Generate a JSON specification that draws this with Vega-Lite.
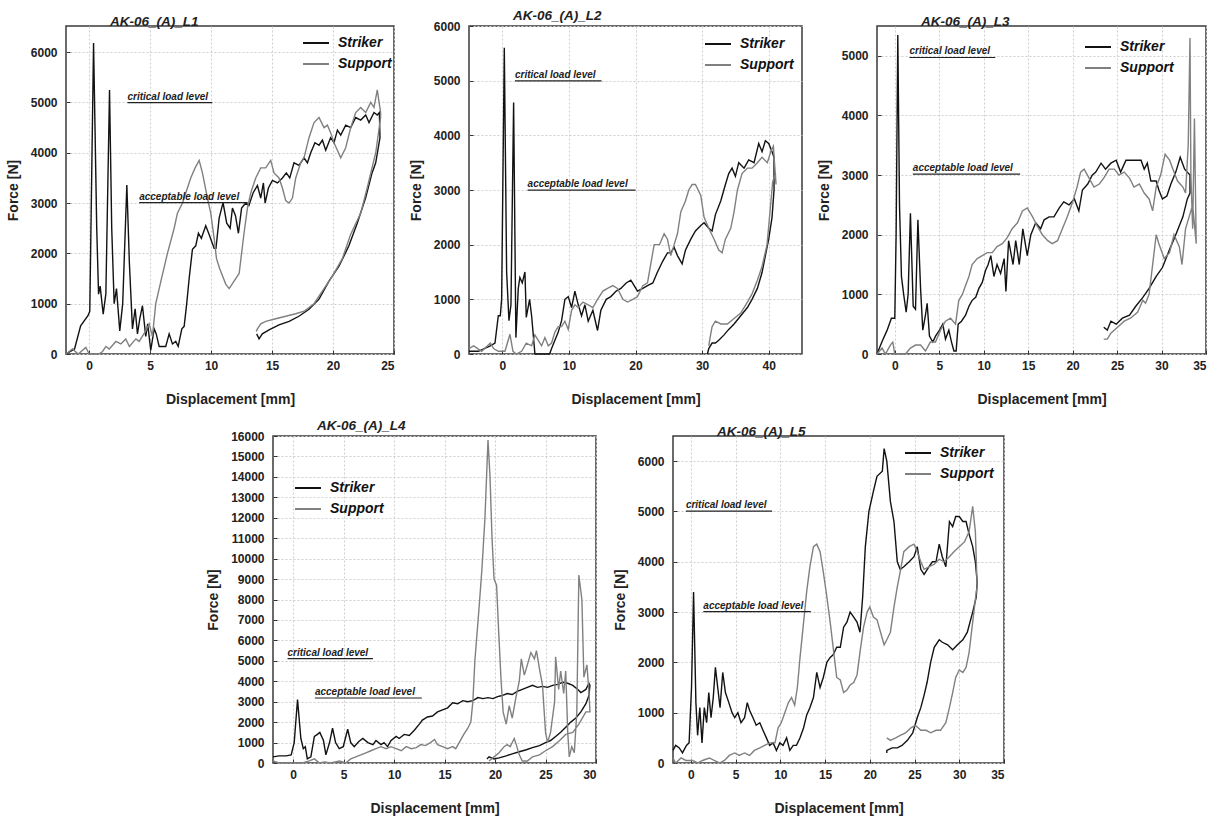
{
"$schema":"https://vega.github.io/schema/vega-lite/v6.json",
"padding":{"left":5,"top":7,"right":5,"bottom":5},
"background":"white",
"config":{
 "font":"Liberation Sans",
 "view":{"stroke":"#3a3a3a","strokeWidth":1.5},
 "axis":{"labelFont":"Liberation Sans","labelFontWeight":"bold","labelFontSize":12,"labelColor":"#222","labelOverlap":false,"titleFont":"Liberation Sans","titleFontWeight":"bold","titleFontSize":14,"titleColor":"#222","domain":false,"grid":true,"gridColor":"#cfcfcf","gridDash":[2,2],"ticks":true,"tickSize":-4,"tickColor":"#333","format":"d"},
 "axisX":{"labelPadding":10,"titlePadding":21},
 "axisY":{"labelPadding":13,"titlePadding":10},
 "legend":{"orient":"none","padding":0,"symbolType":"stroke","symbolStrokeWidth":2,"symbolSize":676,"labelFont":"Liberation Sans","labelFontSize":14,"labelFontStyle":"italic","labelFontWeight":"bold","labelColor":"#111","labelOffset":8,"rowPadding":0},
 "title":{"font":"Liberation Sans","fontSize":13.5,"fontStyle":"italic","fontWeight":"bold","anchor":"start","frame":"group","dx":44,"offset":-2,"color":"#222"}
},
"datasets":{
"A1":[{"t":"critical load level","x":3.14,"x2":10.1,"y":4995},{"t":"acceptable load level","x":4.1,"x2":13.0,"y":3009}],
"A2":[{"t":"critical load level","x":1.9,"x2":14.9,"y":4995},{"t":"acceptable load level","x":3.8,"x2":20.0,"y":2997}],
"A3":[{"t":"critical load level","x":1.65,"x2":11.3,"y":4972},{"t":"acceptable load level","x":2.03,"x2":14.1,"y":3015}],
"A4":[{"t":"critical load level","x":-0.56,"x2":7.9,"y":5105},{"t":"acceptable load level","x":2.15,"x2":12.75,"y":3181}],
"A5":[{"t":"critical load level","x":-0.56,"x2":9.08,"y":5008},{"t":"acceptable load level","x":1.39,"x2":13.4,"y":3010}],
"L1":[
{"s":"Striker","x":-1.9,"y":0},{"s":"Striker","x":-1.2,"y":100},{"s":"Striker","x":-0.7,"y":560},{"s":"Striker","x":-0.1,"y":760},{"s":"Striker","x":0.05,"y":850},{"s":"Striker","x":0.36,"y":6180},{"s":"Striker","x":0.62,"y":2500},{"s":"Striker","x":0.77,"y":1190},{"s":"Striker","x":0.9,"y":1350},{"s":"Striker","x":1.15,"y":790},{"s":"Striker","x":1.37,"y":1200},{"s":"Striker","x":1.67,"y":5250},{"s":"Striker","x":1.85,"y":2500},{"s":"Striker","x":2.05,"y":1000},{"s":"Striker","x":2.24,"y":1300},{"s":"Striker","x":2.51,"y":460},{"s":"Striker","x":2.75,"y":1000},{"s":"Striker","x":3.09,"y":3360},{"s":"Striker","x":3.3,"y":1800},{"s":"Striker","x":3.55,"y":500},{"s":"Striker","x":3.77,"y":900},{"s":"Striker","x":3.96,"y":400},{"s":"Striker","x":4.15,"y":700},{"s":"Striker","x":4.37,"y":960},{"s":"Striker","x":4.64,"y":350},{"s":"Striker","x":4.8,"y":600},{"s":"Striker","x":5.05,"y":70},{"s":"Striker","x":5.33,"y":500},{"s":"Striker","x":5.5,"y":400},{"s":"Striker","x":5.74,"y":150},{"s":"Striker","x":6.28,"y":150},{"s":"Striker","x":6.56,"y":400},{"s":"Striker","x":6.83,"y":200},{"s":"Striker","x":7.1,"y":250},{"s":"Striker","x":7.3,"y":150},{"s":"Striker","x":7.6,"y":500},{"s":"Striker","x":7.79,"y":550},{"s":"Striker","x":8.0,"y":1000},{"s":"Striker","x":8.2,"y":1500},{"s":"Striker","x":8.47,"y":2080},{"s":"Striker","x":8.74,"y":2150},{"s":"Striker","x":8.96,"y":2400},{"s":"Striker","x":9.2,"y":2300},{"s":"Striker","x":9.56,"y":2550},{"s":"Striker","x":9.8,"y":2400},{"s":"Striker","x":10.25,"y":2100},{"s":"Striker","x":10.4,"y":2100},{"s":"Striker","x":10.66,"y":2700},{"s":"Striker","x":10.98,"y":3010},{"s":"Striker","x":11.28,"y":2600},{"s":"Striker","x":11.56,"y":2500},{"s":"Striker","x":11.75,"y":2900},{"s":"Striker","x":12.0,"y":2750},{"s":"Striker","x":12.24,"y":2400},{"s":"Striker","x":12.5,"y":2900},{"s":"Striker","x":12.84,"y":3000},{"s":"Striker","x":13.1,"y":2950},{"s":"Striker","x":13.44,"y":3200},{"s":"Striker","x":13.8,"y":3350},{"s":"Striker","x":14.07,"y":3100},{"s":"Striker","x":14.29,"y":3400},{"s":"Striker","x":14.43,"y":3000},{"s":"Striker","x":14.7,"y":3300},{"s":"Striker","x":15.03,"y":3450},{"s":"Striker","x":15.44,"y":3400},{"s":"Striker","x":15.85,"y":3500},{"s":"Striker","x":16.17,"y":3600},{"s":"Striker","x":16.45,"y":3500},{"s":"Striker","x":16.8,"y":3800},{"s":"Striker","x":17.21,"y":3750},{"s":"Striker","x":17.62,"y":3900},{"s":"Striker","x":17.9,"y":3800},{"s":"Striker","x":18.17,"y":4000},{"s":"Striker","x":18.52,"y":4200},{"s":"Striker","x":18.85,"y":4150},{"s":"Striker","x":19.13,"y":4250},{"s":"Striker","x":19.4,"y":4050},{"s":"Striker","x":19.8,"y":4300},{"s":"Striker","x":20.08,"y":4200},{"s":"Striker","x":20.36,"y":4450},{"s":"Striker","x":20.63,"y":4350},{"s":"Striker","x":21.04,"y":4550},{"s":"Striker","x":21.45,"y":4500},{"s":"Striker","x":21.86,"y":4700},{"s":"Striker","x":22.27,"y":4650},{"s":"Striker","x":22.68,"y":4750},{"s":"Striker","x":22.95,"y":4600},{"s":"Striker","x":23.36,"y":4800},{"s":"Striker","x":23.63,"y":4750},{"s":"Striker","x":23.8,"y":4800},{"s":"Striker","x":23.85,"y":4300},{"s":"Striker","x":23.5,"y":3800},{"s":"Striker","x":23.2,"y":3600},{"s":"Striker","x":22.68,"y":3110},{"s":"Striker","x":22.0,"y":2610},{"s":"Striker","x":21.3,"y":2150},{"s":"Striker","x":20.5,"y":1750},{"s":"Striker","x":19.67,"y":1450},{"s":"Striker","x":18.85,"y":1090},{"s":"Striker","x":18.03,"y":890},{"s":"Striker","x":17.2,"y":750},{"s":"Striker","x":16.4,"y":650},{"s":"Striker","x":15.57,"y":580},{"s":"Striker","x":14.75,"y":480},{"s":"Striker","x":14.2,"y":400},{"s":"Striker","x":13.93,"y":300},{"s":"Striker","x":13.74,"y":400},
{"s":"Support","x":-1.9,"y":0},{"s":"Support","x":-1.37,"y":100},{"s":"Support","x":-0.9,"y":0},{"s":"Support","x":-0.27,"y":130},{"s":"Support","x":0,"y":0},{"s":"Support","x":0.8,"y":0},{"s":"Support","x":1.1,"y":50},{"s":"Support","x":1.37,"y":150},{"s":"Support","x":1.65,"y":100},{"s":"Support","x":2.19,"y":250},{"s":"Support","x":2.6,"y":200},{"s":"Support","x":3.0,"y":300},{"s":"Support","x":3.3,"y":150},{"s":"Support","x":3.83,"y":300},{"s":"Support","x":4.1,"y":250},{"s":"Support","x":4.64,"y":460},{"s":"Support","x":4.92,"y":600},{"s":"Support","x":5.19,"y":350},{"s":"Support","x":5.46,"y":1000},{"s":"Support","x":5.93,"y":1500},{"s":"Support","x":6.42,"y":2000},{"s":"Support","x":6.97,"y":2500},{"s":"Support","x":7.24,"y":2800},{"s":"Support","x":7.65,"y":3000},{"s":"Support","x":7.92,"y":3200},{"s":"Support","x":8.33,"y":3500},{"s":"Support","x":8.69,"y":3700},{"s":"Support","x":9.02,"y":3850},{"s":"Support","x":9.29,"y":3600},{"s":"Support","x":9.7,"y":3100},{"s":"Support","x":9.97,"y":2800},{"s":"Support","x":10.25,"y":2300},{"s":"Support","x":10.44,"y":1900},{"s":"Support","x":10.7,"y":1700},{"s":"Support","x":11.2,"y":1390},{"s":"Support","x":11.48,"y":1300},{"s":"Support","x":12.02,"y":1500},{"s":"Support","x":12.3,"y":1600},{"s":"Support","x":12.7,"y":2400},{"s":"Support","x":12.98,"y":2900},{"s":"Support","x":13.25,"y":3200},{"s":"Support","x":13.66,"y":3500},{"s":"Support","x":14.07,"y":3700},{"s":"Support","x":14.48,"y":3700},{"s":"Support","x":14.89,"y":3850},{"s":"Support","x":15.16,"y":3600},{"s":"Support","x":15.57,"y":3500},{"s":"Support","x":15.85,"y":3300},{"s":"Support","x":16.12,"y":3050},{"s":"Support","x":16.39,"y":3000},{"s":"Support","x":16.67,"y":3100},{"s":"Support","x":16.94,"y":3500},{"s":"Support","x":17.35,"y":3800},{"s":"Support","x":17.62,"y":3900},{"s":"Support","x":18.03,"y":4300},{"s":"Support","x":18.44,"y":4600},{"s":"Support","x":18.85,"y":4700},{"s":"Support","x":19.26,"y":4500},{"s":"Support","x":19.54,"y":4550},{"s":"Support","x":19.8,"y":4400},{"s":"Support","x":20.08,"y":4200},{"s":"Support","x":20.63,"y":3900},{"s":"Support","x":21.04,"y":4100},{"s":"Support","x":21.45,"y":4500},{"s":"Support","x":21.86,"y":4800},{"s":"Support","x":22.27,"y":4900},{"s":"Support","x":22.68,"y":4800},{"s":"Support","x":23.09,"y":5000},{"s":"Support","x":23.36,"y":4900},{"s":"Support","x":23.63,"y":5250},{"s":"Support","x":23.9,"y":4800},{"s":"Support","x":23.9,"y":4700},{"s":"Support","x":23.5,"y":4000},{"s":"Support","x":22.8,"y":3300},{"s":"Support","x":22.27,"y":2800},{"s":"Support","x":21.45,"y":2380},{"s":"Support","x":20.77,"y":1900},{"s":"Support","x":19.95,"y":1550},{"s":"Support","x":19.26,"y":1300},{"s":"Support","x":18.44,"y":1000},{"s":"Support","x":17.62,"y":850},{"s":"Support","x":16.94,"y":800},{"s":"Support","x":16.12,"y":750},{"s":"Support","x":15.3,"y":700},{"s":"Support","x":14.48,"y":650},{"s":"Support","x":14.07,"y":600},{"s":"Support","x":13.8,"y":500},{"s":"Support","x":13.7,"y":450}
],
"L2":[
{"s":"Striker","x":-5,"y":50},{"s":"Striker","x":-3.6,"y":50},{"s":"Striker","x":-1.8,"y":150},{"s":"Striker","x":-1.1,"y":200},{"s":"Striker","x":-0.6,"y":700},{"s":"Striker","x":-0.3,"y":700},{"s":"Striker","x":-0.1,"y":1000},{"s":"Striker","x":0.3,"y":5600},{"s":"Striker","x":0.65,"y":1500},{"s":"Striker","x":1.0,"y":610},{"s":"Striker","x":1.3,"y":900},{"s":"Striker","x":1.7,"y":4600},{"s":"Striker","x":2.04,"y":300},{"s":"Striker","x":2.4,"y":1200},{"s":"Striker","x":2.64,"y":1400},{"s":"Striker","x":3.0,"y":1300},{"s":"Striker","x":3.4,"y":1500},{"s":"Striker","x":3.6,"y":670},{"s":"Striker","x":4.1,"y":1000},{"s":"Striker","x":4.4,"y":700},{"s":"Striker","x":4.9,"y":0},{"s":"Striker","x":5.4,"y":0},{"s":"Striker","x":7.1,"y":0},{"s":"Striker","x":7.4,"y":100},{"s":"Striker","x":8.4,"y":400},{"s":"Striker","x":8.9,"y":610},{"s":"Striker","x":9.4,"y":1000},{"s":"Striker","x":9.9,"y":1050},{"s":"Striker","x":10.4,"y":850},{"s":"Striker","x":10.9,"y":1150},{"s":"Striker","x":11.4,"y":900},{"s":"Striker","x":11.9,"y":700},{"s":"Striker","x":12.4,"y":900},{"s":"Striker","x":12.9,"y":600},{"s":"Striker","x":13.6,"y":800},{"s":"Striker","x":14.3,"y":430},{"s":"Striker","x":14.8,"y":800},{"s":"Striker","x":15.6,"y":1000},{"s":"Striker","x":16.3,"y":1050},{"s":"Striker","x":17.1,"y":1150},{"s":"Striker","x":17.8,"y":1200},{"s":"Striker","x":18.6,"y":1300},{"s":"Striker","x":19.3,"y":1350},{"s":"Striker","x":19.8,"y":1250},{"s":"Striker","x":20.3,"y":1150},{"s":"Striker","x":21.1,"y":1200},{"s":"Striker","x":21.8,"y":1250},{"s":"Striker","x":22.6,"y":1300},{"s":"Striker","x":23.3,"y":1500},{"s":"Striker","x":24.1,"y":1700},{"s":"Striker","x":24.8,"y":1850},{"s":"Striker","x":25.3,"y":1850},{"s":"Striker","x":25.8,"y":1950},{"s":"Striker","x":26.3,"y":1800},{"s":"Striker","x":27.0,"y":1650},{"s":"Striker","x":27.5,"y":1900},{"s":"Striker","x":28.3,"y":2100},{"s":"Striker","x":29.0,"y":2250},{"s":"Striker","x":29.8,"y":2350},{"s":"Striker","x":30.3,"y":2400},{"s":"Striker","x":31.0,"y":2300},{"s":"Striker","x":31.5,"y":2250},{"s":"Striker","x":32.0,"y":2550},{"s":"Striker","x":32.8,"y":2800},{"s":"Striker","x":33.5,"y":3100},{"s":"Striker","x":34.0,"y":3300},{"s":"Striker","x":34.5,"y":3400},{"s":"Striker","x":35.0,"y":3250},{"s":"Striker","x":35.5,"y":3500},{"s":"Striker","x":36.3,"y":3400},{"s":"Striker","x":37.0,"y":3550},{"s":"Striker","x":37.8,"y":3500},{"s":"Striker","x":38.5,"y":3850},{"s":"Striker","x":39.0,"y":3700},{"s":"Striker","x":39.5,"y":3900},{"s":"Striker","x":40.0,"y":3850},{"s":"Striker","x":40.5,"y":3700},{"s":"Striker","x":40.8,"y":3600},{"s":"Striker","x":40.8,"y":3000},{"s":"Striker","x":40.5,"y":2500},{"s":"Striker","x":40.0,"y":2100},{"s":"Striker","x":39.5,"y":1800},{"s":"Striker","x":39.0,"y":1490},{"s":"Striker","x":38.3,"y":1200},{"s":"Striker","x":37.5,"y":1000},{"s":"Striker","x":36.8,"y":850},{"s":"Striker","x":35.8,"y":700},{"s":"Striker","x":34.8,"y":550},{"s":"Striker","x":34.0,"y":450},{"s":"Striker","x":33.3,"y":350},{"s":"Striker","x":32.5,"y":250},{"s":"Striker","x":32.0,"y":200},{"s":"Striker","x":31.5,"y":200},{"s":"Striker","x":31.0,"y":100},{"s":"Striker","x":30.8,"y":0},
{"s":"Support","x":-5,"y":100},{"s":"Support","x":-4.3,"y":150},{"s":"Support","x":-3.1,"y":50},{"s":"Support","x":-1.8,"y":200},{"s":"Support","x":-1.3,"y":100},{"s":"Support","x":-0.6,"y":50},{"s":"Support","x":0.4,"y":50},{"s":"Support","x":1.15,"y":360},{"s":"Support","x":1.6,"y":50},{"s":"Support","x":2.1,"y":0},{"s":"Support","x":2.9,"y":50},{"s":"Support","x":3.6,"y":200},{"s":"Support","x":4.4,"y":150},{"s":"Support","x":4.9,"y":350},{"s":"Support","x":5.4,"y":250},{"s":"Support","x":5.9,"y":150},{"s":"Support","x":6.4,"y":300},{"s":"Support","x":6.9,"y":150},{"s":"Support","x":7.4,"y":200},{"s":"Support","x":7.9,"y":400},{"s":"Support","x":8.4,"y":500},{"s":"Support","x":8.9,"y":500},{"s":"Support","x":9.4,"y":600},{"s":"Support","x":9.9,"y":450},{"s":"Support","x":10.4,"y":800},{"s":"Support","x":10.9,"y":900},{"s":"Support","x":11.4,"y":850},{"s":"Support","x":12.1,"y":950},{"s":"Support","x":12.9,"y":900},{"s":"Support","x":13.6,"y":850},{"s":"Support","x":14.3,"y":1000},{"s":"Support","x":15.1,"y":1150},{"s":"Support","x":15.8,"y":1200},{"s":"Support","x":16.6,"y":1250},{"s":"Support","x":17.3,"y":1200},{"s":"Support","x":18.1,"y":1000},{"s":"Support","x":18.8,"y":950},{"s":"Support","x":19.6,"y":1000},{"s":"Support","x":20.3,"y":1050},{"s":"Support","x":21.1,"y":1250},{"s":"Support","x":21.8,"y":1300},{"s":"Support","x":22.3,"y":1650},{"s":"Support","x":22.8,"y":2000},{"s":"Support","x":23.6,"y":2000},{"s":"Support","x":24.3,"y":2200},{"s":"Support","x":24.8,"y":2100},{"s":"Support","x":25.3,"y":1800},{"s":"Support","x":25.8,"y":2000},{"s":"Support","x":26.3,"y":2200},{"s":"Support","x":26.8,"y":2600},{"s":"Support","x":27.5,"y":2800},{"s":"Support","x":28.0,"y":3000},{"s":"Support","x":28.5,"y":3100},{"s":"Support","x":29.0,"y":3100},{"s":"Support","x":29.8,"y":2900},{"s":"Support","x":30.3,"y":2500},{"s":"Support","x":31.0,"y":2300},{"s":"Support","x":31.8,"y":2100},{"s":"Support","x":32.5,"y":1900},{"s":"Support","x":33.0,"y":1850},{"s":"Support","x":33.5,"y":2100},{"s":"Support","x":34.3,"y":2300},{"s":"Support","x":34.8,"y":2600},{"s":"Support","x":35.3,"y":3000},{"s":"Support","x":36.0,"y":3300},{"s":"Support","x":36.8,"y":3400},{"s":"Support","x":37.5,"y":3400},{"s":"Support","x":38.3,"y":3500},{"s":"Support","x":39.0,"y":3600},{"s":"Support","x":39.8,"y":3500},{"s":"Support","x":40.3,"y":3700},{"s":"Support","x":40.7,"y":3800},{"s":"Support","x":41.1,"y":3100},{"s":"Support","x":41.0,"y":3300},{"s":"Support","x":40.6,"y":3150},{"s":"Support","x":39.75,"y":2000},{"s":"Support","x":39.0,"y":1600},{"s":"Support","x":38.3,"y":1350},{"s":"Support","x":37.5,"y":1100},{"s":"Support","x":36.8,"y":950},{"s":"Support","x":35.8,"y":750},{"s":"Support","x":34.8,"y":650},{"s":"Support","x":33.8,"y":550},{"s":"Support","x":32.8,"y":550},{"s":"Support","x":32.0,"y":600},{"s":"Support","x":31.5,"y":500},{"s":"Support","x":31.2,"y":300},{"s":"Support","x":31.0,"y":150}
],
"L3":[
{"s":"Striker","x":-2,"y":0},{"s":"Striker","x":-1.43,"y":210},{"s":"Striker","x":-0.86,"y":400},{"s":"Striker","x":-0.38,"y":600},{"s":"Striker","x":0,"y":600},{"s":"Striker","x":0.15,"y":2000},{"s":"Striker","x":0.34,"y":5350},{"s":"Striker","x":0.53,"y":2500},{"s":"Striker","x":0.75,"y":1300},{"s":"Striker","x":1.0,"y":1000},{"s":"Striker","x":1.28,"y":700},{"s":"Striker","x":1.5,"y":1000},{"s":"Striker","x":1.76,"y":2360},{"s":"Striker","x":2.07,"y":800},{"s":"Striker","x":2.33,"y":750},{"s":"Striker","x":2.6,"y":2250},{"s":"Striker","x":2.9,"y":1100},{"s":"Striker","x":3.15,"y":400},{"s":"Striker","x":3.45,"y":650},{"s":"Striker","x":3.64,"y":850},{"s":"Striker","x":3.9,"y":300},{"s":"Striker","x":4.28,"y":200},{"s":"Striker","x":4.58,"y":300},{"s":"Striker","x":5.03,"y":400},{"s":"Striker","x":5.4,"y":500},{"s":"Striker","x":5.7,"y":250},{"s":"Striker","x":6.08,"y":400},{"s":"Striker","x":6.38,"y":200},{"s":"Striker","x":6.65,"y":50},{"s":"Striker","x":6.9,"y":50},{"s":"Striker","x":7.13,"y":500},{"s":"Striker","x":7.5,"y":550},{"s":"Striker","x":7.96,"y":650},{"s":"Striker","x":8.34,"y":800},{"s":"Striker","x":8.7,"y":900},{"s":"Striker","x":9.1,"y":950},{"s":"Striker","x":9.46,"y":1100},{"s":"Striker","x":9.84,"y":1200},{"s":"Striker","x":10.2,"y":1400},{"s":"Striker","x":10.5,"y":1500},{"s":"Striker","x":10.8,"y":1650},{"s":"Striker","x":11.15,"y":1300},{"s":"Striker","x":11.5,"y":1500},{"s":"Striker","x":11.9,"y":1350},{"s":"Striker","x":12.3,"y":1600},{"s":"Striker","x":12.5,"y":1050},{"s":"Striker","x":12.8,"y":1900},{"s":"Striker","x":13.3,"y":1500},{"s":"Striker","x":13.6,"y":1900},{"s":"Striker","x":14.0,"y":1500},{"s":"Striker","x":14.4,"y":2100},{"s":"Striker","x":14.9,"y":1650},{"s":"Striker","x":15.3,"y":2000},{"s":"Striker","x":15.85,"y":2200},{"s":"Striker","x":16.4,"y":2100},{"s":"Striker","x":16.8,"y":2250},{"s":"Striker","x":17.35,"y":2300},{"s":"Striker","x":17.9,"y":2300},{"s":"Striker","x":18.5,"y":2450},{"s":"Striker","x":19.0,"y":2550},{"s":"Striker","x":19.6,"y":2500},{"s":"Striker","x":20.2,"y":2600},{"s":"Striker","x":20.7,"y":2400},{"s":"Striker","x":21.1,"y":2750},{"s":"Striker","x":21.7,"y":2850},{"s":"Striker","x":22.2,"y":3000},{"s":"Striker","x":22.6,"y":3050},{"s":"Striker","x":23.2,"y":3200},{"s":"Striker","x":23.7,"y":3100},{"s":"Striker","x":24.3,"y":3200},{"s":"Striker","x":24.9,"y":3250},{"s":"Striker","x":25.4,"y":3050},{"s":"Striker","x":26.0,"y":3250},{"s":"Striker","x":26.5,"y":3250},{"s":"Striker","x":27.1,"y":3250},{"s":"Striker","x":27.7,"y":3250},{"s":"Striker","x":28.05,"y":3100},{"s":"Striker","x":28.4,"y":3200},{"s":"Striker","x":28.8,"y":2900},{"s":"Striker","x":29.4,"y":2900},{"s":"Striker","x":29.7,"y":2750},{"s":"Striker","x":30.1,"y":2600},{"s":"Striker","x":30.6,"y":2650},{"s":"Striker","x":31.05,"y":2850},{"s":"Striker","x":31.6,"y":3050},{"s":"Striker","x":32.1,"y":3300},{"s":"Striker","x":32.6,"y":3100},{"s":"Striker","x":32.9,"y":3050},{"s":"Striker","x":33.2,"y":3000},{"s":"Striker","x":33.2,"y":2700},{"s":"Striker","x":32.9,"y":2600},{"s":"Striker","x":32.4,"y":2300},{"s":"Striker","x":31.6,"y":2000},{"s":"Striker","x":30.9,"y":1750},{"s":"Striker","x":30.1,"y":1450},{"s":"Striker","x":29.4,"y":1300},{"s":"Striker","x":28.6,"y":1100},{"s":"Striker","x":27.9,"y":950},{"s":"Striker","x":27.1,"y":800},{"s":"Striker","x":26.4,"y":650},{"s":"Striker","x":25.6,"y":600},{"s":"Striker","x":24.9,"y":500},{"s":"Striker","x":24.3,"y":550},{"s":"Striker","x":23.9,"y":400},{"s":"Striker","x":23.5,"y":450},
{"s":"Support","x":-2,"y":0},{"s":"Support","x":-1.43,"y":100},{"s":"Support","x":-1.05,"y":0},{"s":"Support","x":-0.5,"y":150},{"s":"Support","x":-0.22,"y":200},{"s":"Support","x":0,"y":0},{"s":"Support","x":0.64,"y":0},{"s":"Support","x":1.2,"y":0},{"s":"Support","x":1.76,"y":100},{"s":"Support","x":2.33,"y":150},{"s":"Support","x":2.9,"y":150},{"s":"Support","x":3.45,"y":50},{"s":"Support","x":4.0,"y":200},{"s":"Support","x":4.58,"y":200},{"s":"Support","x":5.14,"y":400},{"s":"Support","x":5.7,"y":550},{"s":"Support","x":6.27,"y":600},{"s":"Support","x":6.83,"y":500},{"s":"Support","x":7.2,"y":900},{"s":"Support","x":7.6,"y":1000},{"s":"Support","x":7.96,"y":1150},{"s":"Support","x":8.34,"y":1300},{"s":"Support","x":8.7,"y":1500},{"s":"Support","x":9.27,"y":1600},{"s":"Support","x":9.84,"y":1650},{"s":"Support","x":10.4,"y":1700},{"s":"Support","x":10.96,"y":1700},{"s":"Support","x":11.5,"y":1800},{"s":"Support","x":12.1,"y":1850},{"s":"Support","x":12.65,"y":1950},{"s":"Support","x":13.2,"y":2100},{"s":"Support","x":13.8,"y":2200},{"s":"Support","x":14.35,"y":2400},{"s":"Support","x":14.9,"y":2450},{"s":"Support","x":15.5,"y":2300},{"s":"Support","x":16.0,"y":2150},{"s":"Support","x":16.6,"y":2000},{"s":"Support","x":17.2,"y":1900},{"s":"Support","x":17.7,"y":1850},{"s":"Support","x":18.3,"y":1900},{"s":"Support","x":18.85,"y":2100},{"s":"Support","x":19.4,"y":2300},{"s":"Support","x":20.0,"y":2550},{"s":"Support","x":20.5,"y":2800},{"s":"Support","x":20.9,"y":3050},{"s":"Support","x":21.3,"y":3100},{"s":"Support","x":21.85,"y":2950},{"s":"Support","x":22.4,"y":2800},{"s":"Support","x":23.0,"y":2850},{"s":"Support","x":23.5,"y":2950},{"s":"Support","x":24.1,"y":3100},{"s":"Support","x":24.7,"y":3100},{"s":"Support","x":25.2,"y":3000},{"s":"Support","x":25.8,"y":3050},{"s":"Support","x":26.4,"y":2950},{"s":"Support","x":26.9,"y":2800},{"s":"Support","x":27.5,"y":2850},{"s":"Support","x":28.05,"y":2700},{"s":"Support","x":28.6,"y":2600},{"s":"Support","x":29.0,"y":2400},{"s":"Support","x":29.4,"y":2800},{"s":"Support","x":29.9,"y":3000},{"s":"Support","x":30.4,"y":3350},{"s":"Support","x":30.9,"y":3250},{"s":"Support","x":31.4,"y":3050},{"s":"Support","x":31.8,"y":2900},{"s":"Support","x":32.4,"y":2800},{"s":"Support","x":32.7,"y":2700},{"s":"Support","x":33.0,"y":3500},{"s":"Support","x":33.2,"y":5300},{"s":"Support","x":33.3,"y":3000},{"s":"Support","x":33.5,"y":2100},{"s":"Support","x":33.7,"y":3950},{"s":"Support","x":33.9,"y":1850},{"s":"Support","x":33.5,"y":2500},{"s":"Support","x":32.7,"y":2100},{"s":"Support","x":32.3,"y":1500},{"s":"Support","x":32.0,"y":1800},{"s":"Support","x":31.4,"y":2000},{"s":"Support","x":30.9,"y":1700},{"s":"Support","x":30.3,"y":1600},{"s":"Support","x":29.7,"y":1850},{"s":"Support","x":29.4,"y":2000},{"s":"Support","x":29.0,"y":1500},{"s":"Support","x":28.6,"y":1000},{"s":"Support","x":28.2,"y":850},{"s":"Support","x":27.9,"y":900},{"s":"Support","x":27.3,"y":700},{"s":"Support","x":26.5,"y":600},{"s":"Support","x":25.8,"y":550},{"s":"Support","x":25.05,"y":450},{"s":"Support","x":24.3,"y":350},{"s":"Support","x":23.9,"y":250},{"s":"Support","x":23.5,"y":250}
],
"L4":[
{"s":"Striker","x":-2,"y":300},{"s":"Striker","x":-1.4,"y":350},{"s":"Striker","x":-0.7,"y":350},{"s":"Striker","x":-0.2,"y":400},{"s":"Striker","x":0.1,"y":1000},{"s":"Striker","x":0.43,"y":3100},{"s":"Striker","x":0.76,"y":1200},{"s":"Striker","x":1.0,"y":700},{"s":"Striker","x":1.2,"y":800},{"s":"Striker","x":1.4,"y":200},{"s":"Striker","x":1.75,"y":300},{"s":"Striker","x":2.1,"y":1300},{"s":"Striker","x":2.4,"y":1400},{"s":"Striker","x":2.64,"y":1500},{"s":"Striker","x":3.0,"y":1100},{"s":"Striker","x":3.24,"y":400},{"s":"Striker","x":3.6,"y":1000},{"s":"Striker","x":3.9,"y":1700},{"s":"Striker","x":4.2,"y":1000},{"s":"Striker","x":4.56,"y":700},{"s":"Striker","x":4.96,"y":800},{"s":"Striker","x":5.4,"y":1650},{"s":"Striker","x":5.7,"y":1000},{"s":"Striker","x":6.05,"y":800},{"s":"Striker","x":6.5,"y":1050},{"s":"Striker","x":6.9,"y":1200},{"s":"Striker","x":7.4,"y":1000},{"s":"Striker","x":7.9,"y":900},{"s":"Striker","x":8.2,"y":1100},{"s":"Striker","x":8.7,"y":900},{"s":"Striker","x":9.0,"y":1000},{"s":"Striker","x":9.35,"y":800},{"s":"Striker","x":9.7,"y":1100},{"s":"Striker","x":10.2,"y":1300},{"s":"Striker","x":10.5,"y":1200},{"s":"Striker","x":11.0,"y":1400},{"s":"Striker","x":11.5,"y":1350},{"s":"Striker","x":12.0,"y":1600},{"s":"Striker","x":12.5,"y":1900},{"s":"Striker","x":12.8,"y":2100},{"s":"Striker","x":13.3,"y":2250},{"s":"Striker","x":13.8,"y":2300},{"s":"Striker","x":14.3,"y":2500},{"s":"Striker","x":14.8,"y":2600},{"s":"Striker","x":15.3,"y":2700},{"s":"Striker","x":15.8,"y":2950},{"s":"Striker","x":16.3,"y":2900},{"s":"Striker","x":16.8,"y":3050},{"s":"Striker","x":17.3,"y":3000},{"s":"Striker","x":17.8,"y":3050},{"s":"Striker","x":18.3,"y":3200},{"s":"Striker","x":18.8,"y":3150},{"s":"Striker","x":19.3,"y":3200},{"s":"Striker","x":19.8,"y":3150},{"s":"Striker","x":20.25,"y":3250},{"s":"Striker","x":20.7,"y":3300},{"s":"Striker","x":21.2,"y":3400},{"s":"Striker","x":21.7,"y":3350},{"s":"Striker","x":22.2,"y":3500},{"s":"Striker","x":22.7,"y":3600},{"s":"Striker","x":23.2,"y":3700},{"s":"Striker","x":23.7,"y":3800},{"s":"Striker","x":24.2,"y":3700},{"s":"Striker","x":24.7,"y":3750},{"s":"Striker","x":25.2,"y":3700},{"s":"Striker","x":25.7,"y":3800},{"s":"Striker","x":26.2,"y":3850},{"s":"Striker","x":26.7,"y":3950},{"s":"Striker","x":27.2,"y":3900},{"s":"Striker","x":27.7,"y":3800},{"s":"Striker","x":28.2,"y":3600},{"s":"Striker","x":28.5,"y":3450},{"s":"Striker","x":29.0,"y":3600},{"s":"Striker","x":29.3,"y":3900},{"s":"Striker","x":29.4,"y":3800},{"s":"Striker","x":29.3,"y":3300},{"s":"Striker","x":29.0,"y":2900},{"s":"Striker","x":28.5,"y":2500},{"s":"Striker","x":28.0,"y":2200},{"s":"Striker","x":27.5,"y":2000},{"s":"Striker","x":27.0,"y":1750},{"s":"Striker","x":26.5,"y":1500},{"s":"Striker","x":26.0,"y":1300},{"s":"Striker","x":25.5,"y":1100},{"s":"Striker","x":25.0,"y":1000},{"s":"Striker","x":24.4,"y":850},{"s":"Striker","x":23.7,"y":750},{"s":"Striker","x":23.1,"y":650},{"s":"Striker","x":22.4,"y":550},{"s":"Striker","x":21.7,"y":450},{"s":"Striker","x":21.1,"y":350},{"s":"Striker","x":20.4,"y":250},{"s":"Striker","x":19.9,"y":200},{"s":"Striker","x":19.4,"y":300},{"s":"Striker","x":19.2,"y":200},
{"s":"Support","x":-2,"y":100},{"s":"Support","x":-1.4,"y":0},{"s":"Support","x":-0.7,"y":0},{"s":"Support","x":0.3,"y":0},{"s":"Support","x":0.9,"y":0},{"s":"Support","x":1.6,"y":100},{"s":"Support","x":2.1,"y":200},{"s":"Support","x":2.6,"y":0},{"s":"Support","x":3.1,"y":50},{"s":"Support","x":3.7,"y":0},{"s":"Support","x":4.6,"y":100},{"s":"Support","x":5.2,"y":0},{"s":"Support","x":5.7,"y":200},{"s":"Support","x":6.2,"y":300},{"s":"Support","x":6.7,"y":400},{"s":"Support","x":7.2,"y":500},{"s":"Support","x":7.7,"y":600},{"s":"Support","x":8.2,"y":700},{"s":"Support","x":8.7,"y":800},{"s":"Support","x":9.2,"y":700},{"s":"Support","x":9.7,"y":800},{"s":"Support","x":10.2,"y":700},{"s":"Support","x":10.7,"y":600},{"s":"Support","x":11.2,"y":800},{"s":"Support","x":11.7,"y":700},{"s":"Support","x":12.2,"y":750},{"s":"Support","x":12.65,"y":900},{"s":"Support","x":13.1,"y":850},{"s":"Support","x":13.6,"y":1000},{"s":"Support","x":14.0,"y":1150},{"s":"Support","x":14.3,"y":900},{"s":"Support","x":14.8,"y":800},{"s":"Support","x":15.3,"y":700},{"s":"Support","x":15.8,"y":800},{"s":"Support","x":16.1,"y":700},{"s":"Support","x":16.45,"y":1000},{"s":"Support","x":16.9,"y":1400},{"s":"Support","x":17.3,"y":1700},{"s":"Support","x":17.6,"y":2000},{"s":"Support","x":17.8,"y":3000},{"s":"Support","x":18.0,"y":5000},{"s":"Support","x":18.4,"y":7500},{"s":"Support","x":18.7,"y":9500},{"s":"Support","x":19.0,"y":12000},{"s":"Support","x":19.3,"y":15800},{"s":"Support","x":19.5,"y":14000},{"s":"Support","x":19.7,"y":11000},{"s":"Support","x":19.9,"y":9000},{"s":"Support","x":20.15,"y":8700},{"s":"Support","x":20.35,"y":6500},{"s":"Support","x":20.6,"y":4000},{"s":"Support","x":20.8,"y":2500},{"s":"Support","x":21.1,"y":1900},{"s":"Support","x":21.4,"y":2800},{"s":"Support","x":21.7,"y":2200},{"s":"Support","x":22.1,"y":3300},{"s":"Support","x":22.4,"y":4000},{"s":"Support","x":22.6,"y":5100},{"s":"Support","x":22.9,"y":4300},{"s":"Support","x":23.2,"y":4800},{"s":"Support","x":23.55,"y":5400},{"s":"Support","x":23.9,"y":5100},{"s":"Support","x":24.1,"y":5500},{"s":"Support","x":24.4,"y":4600},{"s":"Support","x":24.7,"y":3800},{"s":"Support","x":25.0,"y":1500},{"s":"Support","x":25.2,"y":1000},{"s":"Support","x":25.5,"y":1500},{"s":"Support","x":25.9,"y":3000},{"s":"Support","x":26.0,"y":5200},{"s":"Support","x":26.3,"y":3600},{"s":"Support","x":26.5,"y":4500},{"s":"Support","x":26.8,"y":3400},{"s":"Support","x":27.0,"y":4500},{"s":"Support","x":27.2,"y":1500},{"s":"Support","x":27.35,"y":300},{"s":"Support","x":27.6,"y":800},{"s":"Support","x":27.85,"y":500},{"s":"Support","x":28.1,"y":2500},{"s":"Support","x":28.3,"y":9200},{"s":"Support","x":28.6,"y":8000},{"s":"Support","x":28.8,"y":4200},{"s":"Support","x":29.1,"y":4800},{"s":"Support","x":29.3,"y":3500},{"s":"Support","x":29.4,"y":2500},{"s":"Support","x":29.0,"y":2500},{"s":"Support","x":28.3,"y":1900},{"s":"Support","x":27.7,"y":1500},{"s":"Support","x":27.0,"y":1400},{"s":"Support","x":26.4,"y":1100},{"s":"Support","x":25.7,"y":800},{"s":"Support","x":25.0,"y":600},{"s":"Support","x":24.4,"y":400},{"s":"Support","x":23.7,"y":300},{"s":"Support","x":23.2,"y":100},{"s":"Support","x":22.7,"y":100},{"s":"Support","x":22.4,"y":400},{"s":"Support","x":22.1,"y":900},{"s":"Support","x":21.9,"y":1200},{"s":"Support","x":21.5,"y":800},{"s":"Support","x":21.2,"y":900},{"s":"Support","x":20.9,"y":800},{"s":"Support","x":20.4,"y":500},{"s":"Support","x":19.9,"y":300},{"s":"Support","x":19.4,"y":100}
],
"L5":[
{"s":"Striker","x":-2,"y":250},{"s":"Striker","x":-1.7,"y":350},{"s":"Striker","x":-1.3,"y":300},{"s":"Striker","x":-0.94,"y":200},{"s":"Striker","x":-0.5,"y":350},{"s":"Striker","x":-0.2,"y":400},{"s":"Striker","x":0.07,"y":1500},{"s":"Striker","x":0.3,"y":3400},{"s":"Striker","x":0.56,"y":1200},{"s":"Striker","x":0.75,"y":550},{"s":"Striker","x":1.0,"y":1100},{"s":"Striker","x":1.24,"y":400},{"s":"Striker","x":1.5,"y":1100},{"s":"Striker","x":1.76,"y":800},{"s":"Striker","x":2.0,"y":1400},{"s":"Striker","x":2.25,"y":900},{"s":"Striker","x":2.5,"y":1300},{"s":"Striker","x":2.74,"y":1900},{"s":"Striker","x":3.0,"y":1500},{"s":"Striker","x":3.26,"y":1100},{"s":"Striker","x":3.56,"y":1800},{"s":"Striker","x":3.86,"y":1400},{"s":"Striker","x":4.24,"y":1200},{"s":"Striker","x":4.6,"y":1000},{"s":"Striker","x":4.9,"y":900},{"s":"Striker","x":5.25,"y":1000},{"s":"Striker","x":5.6,"y":800},{"s":"Striker","x":6.0,"y":900},{"s":"Striker","x":6.3,"y":1200},{"s":"Striker","x":6.56,"y":1050},{"s":"Striker","x":6.94,"y":900},{"s":"Striker","x":7.3,"y":750},{"s":"Striker","x":7.7,"y":800},{"s":"Striker","x":8.06,"y":650},{"s":"Striker","x":8.44,"y":500},{"s":"Striker","x":8.8,"y":350},{"s":"Striker","x":9.2,"y":400},{"s":"Striker","x":9.56,"y":250},{"s":"Striker","x":9.94,"y":400},{"s":"Striker","x":10.3,"y":350},{"s":"Striker","x":10.7,"y":500},{"s":"Striker","x":11.06,"y":250},{"s":"Striker","x":11.44,"y":350},{"s":"Striker","x":11.8,"y":350},{"s":"Striker","x":12.2,"y":500},{"s":"Striker","x":12.6,"y":700},{"s":"Striker","x":12.94,"y":950},{"s":"Striker","x":13.3,"y":1100},{"s":"Striker","x":13.7,"y":1300},{"s":"Striker","x":14.07,"y":1800},{"s":"Striker","x":14.44,"y":1500},{"s":"Striker","x":14.8,"y":1700},{"s":"Striker","x":15.2,"y":2000},{"s":"Striker","x":15.57,"y":2100},{"s":"Striker","x":15.9,"y":2150},{"s":"Striker","x":16.3,"y":2300},{"s":"Striker","x":16.7,"y":2300},{"s":"Striker","x":17.07,"y":2700},{"s":"Striker","x":17.44,"y":2800},{"s":"Striker","x":17.8,"y":3000},{"s":"Striker","x":18.2,"y":2900},{"s":"Striker","x":18.57,"y":2800},{"s":"Striker","x":18.9,"y":2600},{"s":"Striker","x":19.2,"y":3300},{"s":"Striker","x":19.5,"y":4300},{"s":"Striker","x":19.9,"y":5000},{"s":"Striker","x":20.4,"y":5400},{"s":"Striker","x":20.8,"y":5700},{"s":"Striker","x":21.4,"y":5800},{"s":"Striker","x":21.6,"y":6250},{"s":"Striker","x":21.9,"y":6000},{"s":"Striker","x":22.3,"y":5200},{"s":"Striker","x":22.7,"y":4800},{"s":"Striker","x":23.07,"y":4000},{"s":"Striker","x":23.4,"y":3850},{"s":"Striker","x":23.8,"y":3900},{"s":"Striker","x":24.4,"y":4000},{"s":"Striker","x":24.94,"y":4100},{"s":"Striker","x":25.3,"y":4300},{"s":"Striker","x":25.7,"y":3850},{"s":"Striker","x":26.07,"y":3750},{"s":"Striker","x":26.6,"y":3900},{"s":"Striker","x":27.0,"y":4000},{"s":"Striker","x":27.4,"y":4000},{"s":"Striker","x":27.76,"y":4350},{"s":"Striker","x":28.1,"y":4100},{"s":"Striker","x":28.5,"y":3900},{"s":"Striker","x":28.9,"y":4800},{"s":"Striker","x":29.26,"y":4700},{"s":"Striker","x":29.6,"y":4900},{"s":"Striker","x":30.0,"y":4900},{"s":"Striker","x":30.4,"y":4800},{"s":"Striker","x":30.76,"y":4800},{"s":"Striker","x":31.1,"y":4550},{"s":"Striker","x":31.5,"y":4300},{"s":"Striker","x":31.8,"y":4000},{"s":"Striker","x":32.0,"y":3600},{"s":"Striker","x":31.9,"y":3300},{"s":"Striker","x":31.5,"y":3000},{"s":"Striker","x":30.9,"y":2600},{"s":"Striker","x":30.4,"y":2450},{"s":"Striker","x":29.8,"y":2350},{"s":"Striker","x":29.26,"y":2250},{"s":"Striker","x":28.7,"y":2350},{"s":"Striker","x":28.1,"y":2400},{"s":"Striker","x":27.76,"y":2450},{"s":"Striker","x":27.2,"y":2300},{"s":"Striker","x":26.8,"y":2000},{"s":"Striker","x":26.4,"y":1600},{"s":"Striker","x":26.07,"y":1350},{"s":"Striker","x":25.7,"y":1100},{"s":"Striker","x":25.3,"y":900},{"s":"Striker","x":24.8,"y":600},{"s":"Striker","x":24.2,"y":450},{"s":"Striker","x":23.6,"y":350},{"s":"Striker","x":23.07,"y":300},{"s":"Striker","x":22.5,"y":300},{"s":"Striker","x":21.9,"y":250},{"s":"Striker","x":21.9,"y":200},
{"s":"Support","x":-2,"y":100},{"s":"Support","x":-1.7,"y":0},{"s":"Support","x":-1.1,"y":100},{"s":"Support","x":-0.56,"y":50},{"s":"Support","x":0.19,"y":50},{"s":"Support","x":0.75,"y":0},{"s":"Support","x":1.3,"y":50},{"s":"Support","x":2.06,"y":100},{"s":"Support","x":2.6,"y":50},{"s":"Support","x":3.2,"y":0},{"s":"Support","x":3.75,"y":50},{"s":"Support","x":4.3,"y":150},{"s":"Support","x":4.9,"y":200},{"s":"Support","x":5.4,"y":150},{"s":"Support","x":6.0,"y":200},{"s":"Support","x":6.56,"y":150},{"s":"Support","x":7.1,"y":250},{"s":"Support","x":7.7,"y":300},{"s":"Support","x":8.25,"y":350},{"s":"Support","x":8.8,"y":400},{"s":"Support","x":9.4,"y":400},{"s":"Support","x":9.75,"y":700},{"s":"Support","x":10.1,"y":800},{"s":"Support","x":10.5,"y":1000},{"s":"Support","x":10.9,"y":1200},{"s":"Support","x":11.25,"y":1300},{"s":"Support","x":11.6,"y":1150},{"s":"Support","x":11.9,"y":1500},{"s":"Support","x":12.2,"y":2100},{"s":"Support","x":12.6,"y":2800},{"s":"Support","x":12.94,"y":3400},{"s":"Support","x":13.3,"y":3900},{"s":"Support","x":13.7,"y":4300},{"s":"Support","x":14.07,"y":4350},{"s":"Support","x":14.44,"y":4200},{"s":"Support","x":14.8,"y":3800},{"s":"Support","x":15.2,"y":3300},{"s":"Support","x":15.57,"y":2800},{"s":"Support","x":15.9,"y":2300},{"s":"Support","x":16.3,"y":1700},{"s":"Support","x":16.7,"y":1650},{"s":"Support","x":17.07,"y":1400},{"s":"Support","x":17.44,"y":1450},{"s":"Support","x":17.8,"y":1550},{"s":"Support","x":18.2,"y":1600},{"s":"Support","x":18.57,"y":1750},{"s":"Support","x":18.9,"y":2200},{"s":"Support","x":19.3,"y":2700},{"s":"Support","x":19.7,"y":3000},{"s":"Support","x":20.0,"y":3100},{"s":"Support","x":20.4,"y":2900},{"s":"Support","x":20.8,"y":2850},{"s":"Support","x":21.2,"y":2600},{"s":"Support","x":21.6,"y":2350},{"s":"Support","x":21.9,"y":2450},{"s":"Support","x":22.3,"y":2600},{"s":"Support","x":22.7,"y":3100},{"s":"Support","x":23.07,"y":3500},{"s":"Support","x":23.4,"y":3800},{"s":"Support","x":23.8,"y":4200},{"s":"Support","x":24.4,"y":4300},{"s":"Support","x":24.94,"y":4350},{"s":"Support","x":25.3,"y":4200},{"s":"Support","x":25.7,"y":4000},{"s":"Support","x":26.07,"y":3850},{"s":"Support","x":26.6,"y":3900},{"s":"Support","x":27.2,"y":3950},{"s":"Support","x":27.76,"y":4050},{"s":"Support","x":28.3,"y":4000},{"s":"Support","x":28.9,"y":4100},{"s":"Support","x":29.4,"y":4200},{"s":"Support","x":30.0,"y":4300},{"s":"Support","x":30.6,"y":4400},{"s":"Support","x":31.1,"y":4600},{"s":"Support","x":31.5,"y":5100},{"s":"Support","x":31.8,"y":4600},{"s":"Support","x":32.0,"y":3500},{"s":"Support","x":31.9,"y":3400},{"s":"Support","x":31.5,"y":2800},{"s":"Support","x":31.1,"y":2200},{"s":"Support","x":30.76,"y":1900},{"s":"Support","x":30.4,"y":1800},{"s":"Support","x":30.0,"y":1850},{"s":"Support","x":29.6,"y":1700},{"s":"Support","x":29.26,"y":1400},{"s":"Support","x":28.9,"y":1100},{"s":"Support","x":28.5,"y":800},{"s":"Support","x":27.9,"y":650},{"s":"Support","x":27.4,"y":650},{"s":"Support","x":26.8,"y":600},{"s":"Support","x":26.3,"y":650},{"s":"Support","x":25.7,"y":650},{"s":"Support","x":25.1,"y":750},{"s":"Support","x":24.6,"y":700},{"s":"Support","x":24.0,"y":600},{"s":"Support","x":23.4,"y":550},{"s":"Support","x":22.9,"y":500},{"s":"Support","x":22.3,"y":450},{"s":"Support","x":21.9,"y":500}
]
},
"spacing":10,
"resolve":{"scale":{"color":"independent"},"legend":{"color":"independent"}},
"vconcat":[
{"bounds":"flush","spacing":75,"resolve":{"scale":{"color":"independent"},"legend":{"color":"independent"}},
 "hconcat":[
 {"width":328,"height":328,"title":"AK-06_(A)_L1",
  "layer":[
   {"data":{"name":"L1"},"mark":{"type":"line","strokeWidth":1.4},"encoding":{
     "x":{"field":"x","type":"quantitative","scale":{"domain":[-1.9,25],"nice":false,"zero":false},"axis":{"values":[0,5,10,15,20,25],"tickCount":10,"title":"Displacement [mm]"}},
     "y":{"field":"y","type":"quantitative","scale":{"domain":[0,6520],"nice":false},"axis":{"values":[0,1000,2000,3000,4000,5000,6000],"tickCount":10,"title":"Force [N]","labelOverlap":false}},
     "color":{"field":"s","type":"nominal","scale":{"domain":["Striker","Support"],"range":["#121212","#808080"]},"legend":{"title":null,"legendX":236,"legendY":3}},
     "order":{"value":null}}},
   {"data":{"name":"A1"},"mark":{"type":"rule","color":"#222","strokeWidth":1.2},"encoding":{"x":{"field":"x","type":"quantitative"},"x2":{"field":"x2"},"y":{"field":"y","type":"quantitative"}}},
   {"data":{"name":"A1"},"mark":{"type":"text","align":"left","baseline":"alphabetic","dy":-3,"fontSize":10,"fontStyle":"italic","fontWeight":"bold","color":"#222"},"encoding":{"x":{"field":"x","type":"quantitative"},"y":{"field":"y","type":"quantitative"},"text":{"field":"t"}}}
  ]},
 {"width":333,"height":328,"title":"AK-06_(A)_L2",
  "layer":[
   {"data":{"name":"L2"},"mark":{"type":"line","strokeWidth":1.4},"encoding":{
     "x":{"field":"x","type":"quantitative","scale":{"domain":[-5,45],"nice":false,"zero":false},"axis":{"values":[0,10,20,30,40],"tickCount":10,"title":"Displacement [mm]"}},
     "y":{"field":"y","type":"quantitative","scale":{"domain":[0,6000],"nice":false},"axis":{"values":[0,1000,2000,3000,4000,5000,6000],"tickCount":10,"title":"Force [N]","labelOverlap":false}},
     "color":{"field":"s","type":"nominal","scale":{"domain":["Striker","Support"],"range":["#121212","#808080"]},"legend":{"title":null,"legendX":235,"legendY":4}},
     "order":{"value":null}}},
   {"data":{"name":"A2"},"mark":{"type":"rule","color":"#222","strokeWidth":1.2},"encoding":{"x":{"field":"x","type":"quantitative"},"x2":{"field":"x2"},"y":{"field":"y","type":"quantitative"}}},
   {"data":{"name":"A2"},"mark":{"type":"text","align":"left","baseline":"alphabetic","dy":-3,"fontSize":10,"fontStyle":"italic","fontWeight":"bold","color":"#222"},"encoding":{"x":{"field":"x","type":"quantitative"},"y":{"field":"y","type":"quantitative"},"text":{"field":"t"}}}
  ]},
 {"width":329,"height":328,"title":"AK-06_(A)_L3",
  "layer":[
   {"data":{"name":"L3"},"mark":{"type":"line","strokeWidth":1.4},"encoding":{
     "x":{"field":"x","type":"quantitative","scale":{"domain":[-2,35],"nice":false,"zero":false},"axis":{"values":[0,5,10,15,20,25,30,35],"tickCount":10,"title":"Displacement [mm]"}},
     "y":{"field":"y","type":"quantitative","scale":{"domain":[0,5500],"nice":false},"axis":{"values":[0,1000,2000,3000,4000,5000],"tickCount":10,"title":"Force [N]","labelOverlap":false}},
     "color":{"field":"s","type":"nominal","scale":{"domain":["Striker","Support"],"range":["#121212","#808080"]},"legend":{"title":null,"legendX":207,"legendY":7}},
     "order":{"value":null}}},
   {"data":{"name":"A3"},"mark":{"type":"rule","color":"#222","strokeWidth":1.2},"encoding":{"x":{"field":"x","type":"quantitative"},"x2":{"field":"x2"},"y":{"field":"y","type":"quantitative"}}},
   {"data":{"name":"A3"},"mark":{"type":"text","align":"left","baseline":"alphabetic","dy":-3,"fontSize":10,"fontStyle":"italic","fontWeight":"bold","color":"#222"},"encoding":{"x":{"field":"x","type":"quantitative"},"y":{"field":"y","type":"quantitative"},"text":{"field":"t"}}}
  ]}
 ]},
{"bounds":"flush","spacing":77,"resolve":{"scale":{"color":"independent"},"legend":{"color":"independent"}},
 "hconcat":[
 {"width":130,"height":327,"data":{"values":[{"a":0}]},"mark":{"type":"point","opacity":0},"encoding":{},"view":{"stroke":null}},
 {"width":323,"height":327,"title":"AK-06_(A)_L4",
  "layer":[
   {"data":{"name":"L4"},"mark":{"type":"line","strokeWidth":1.4},"encoding":{
     "x":{"field":"x","type":"quantitative","scale":{"domain":[-2,30],"nice":false,"zero":false},"axis":{"values":[0,5,10,15,20,25,30],"tickCount":10,"title":"Displacement [mm]"}},
     "y":{"field":"y","type":"quantitative","scale":{"domain":[0,16000],"nice":false},"axis":{"values":[0,1000,2000,3000,4000,5000,6000,7000,8000,9000,10000,11000,12000,13000,14000,15000,16000],"tickCount":20,"title":"Force [N]","labelOverlap":false}},
     "color":{"field":"s","type":"nominal","scale":{"domain":["Striker","Support"],"range":["#121212","#808080"]},"legend":{"title":null,"legendX":21,"legendY":38}},
     "order":{"value":null}}},
   {"data":{"name":"A4"},"mark":{"type":"rule","color":"#222","strokeWidth":1.2},"encoding":{"x":{"field":"x","type":"quantitative"},"x2":{"field":"x2"},"y":{"field":"y","type":"quantitative"}}},
   {"data":{"name":"A4"},"mark":{"type":"text","align":"left","baseline":"alphabetic","dy":-3,"fontSize":10,"fontStyle":"italic","fontWeight":"bold","color":"#222"},"encoding":{"x":{"field":"x","type":"quantitative"},"y":{"field":"y","type":"quantitative"},"text":{"field":"t"}}}
  ]},
 {"width":331,"height":327,"title":"AK-06_(A)_L5",
  "layer":[
   {"data":{"name":"L5"},"mark":{"type":"line","strokeWidth":1.4},"encoding":{
     "x":{"field":"x","type":"quantitative","scale":{"domain":[-2,35],"nice":false,"zero":false},"axis":{"values":[0,5,10,15,20,25,30,35],"tickCount":10,"title":"Displacement [mm]"}},
     "y":{"field":"y","type":"quantitative","scale":{"domain":[0,6500],"nice":false},"axis":{"values":[0,1000,2000,3000,4000,5000,6000],"tickCount":10,"title":"Force [N]","labelOverlap":false}},
     "color":{"field":"s","type":"nominal","scale":{"domain":["Striker","Support"],"range":["#121212","#808080"]},"legend":{"title":null,"legendX":231,"legendY":3}},
     "order":{"value":null}}},
   {"data":{"name":"A5"},"mark":{"type":"rule","color":"#222","strokeWidth":1.2},"encoding":{"x":{"field":"x","type":"quantitative"},"x2":{"field":"x2"},"y":{"field":"y","type":"quantitative"}}},
   {"data":{"name":"A5"},"mark":{"type":"text","align":"left","baseline":"alphabetic","dy":-3,"fontSize":10,"fontStyle":"italic","fontWeight":"bold","color":"#222"},"encoding":{"x":{"field":"x","type":"quantitative"},"y":{"field":"y","type":"quantitative"},"text":{"field":"t"}}}
  ]}
 ]}
]
}
